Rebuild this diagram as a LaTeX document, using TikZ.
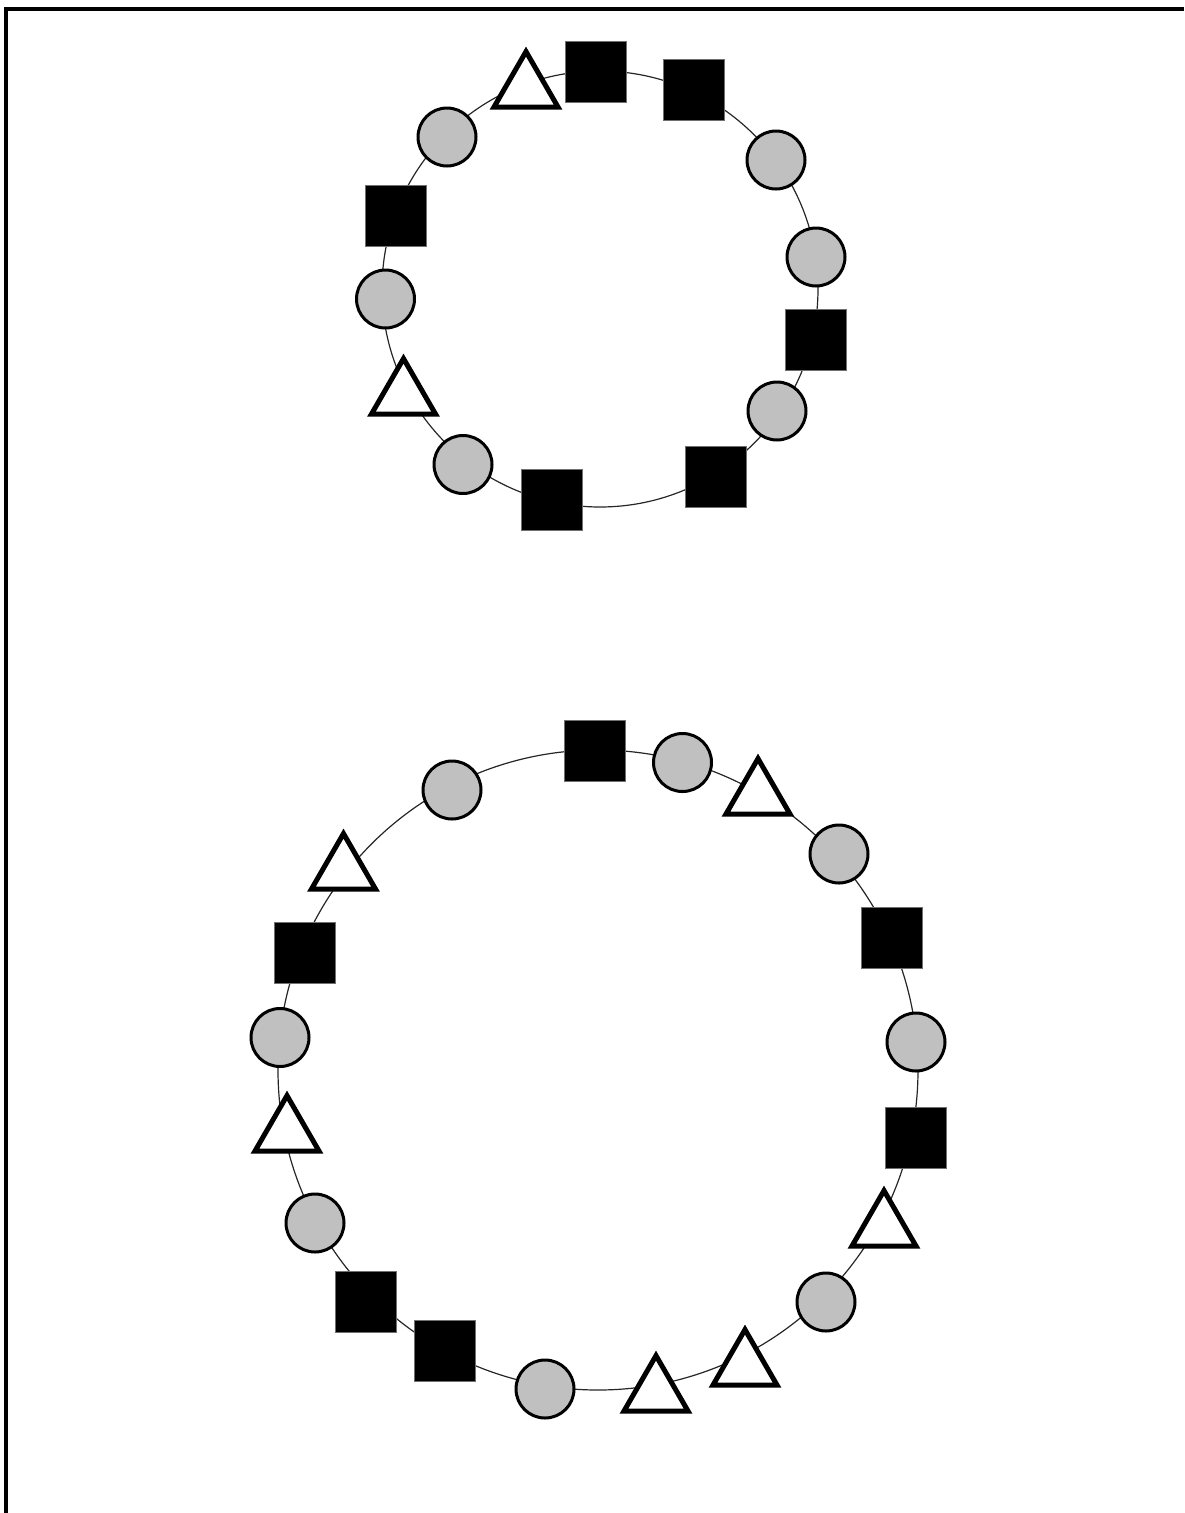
\documentclass[tikz,border=0pt]{standalone}
\usetikzlibrary{shapes.geometric}
\definecolor{ringgray}{HTML}{C0C0C0}
\definecolor{sqedge}{HTML}{707070}
\begin{document}
\begin{tikzpicture}[x=1pt,y=-1pt,
  ring/.style={draw=black!85, line width=1.2pt},
  gc/.style={circle, draw=black, line width=3pt, fill=ringgray, minimum size=58pt, inner sep=0pt},
  bsq/.style={rectangle, draw=sqedge, line width=1pt, fill=black, minimum size=61pt, inner sep=0pt},
  wtri/.style={regular polygon, regular polygon sides=3, draw=black, line width=5pt, fill=white, minimum size=74pt, inner sep=0pt, yshift=-8.6pt},
  frameline/.style={draw=black, line width=4pt}]
\useasboundingbox (0,0) rectangle (1184,1513);
% frame (left and top)
\coordinate (fbl) at (6,1513);
\coordinate (ftl) at (6,9);
\coordinate (ftr) at (1184,9);
\draw[frameline] (fbl) -- (ftl) -- (ftr);

% ---------- top ring ----------
\coordinate (ca) at (600,289);
\draw[ring] (ca) circle[radius=218pt];
\node[wtri] (a1)  at (526,80)   {};
\node[bsq]  (a2)  at (596,71.5) {};
\node[bsq]  (a3)  at (694,90)   {};
\node[gc]   (a4)  at (776,160)  {};
\node[gc]   (a5)  at (816,257)  {};
\node[bsq]  (a6)  at (816,340)  {};
\node[gc]   (a7)  at (777,411)  {};
\node[bsq]  (a8)  at (716,477)  {};
\node[bsq]  (a9)  at (552,500)  {};
\node[gc]   (a10) at (463,464.5){};
\node[wtri] (a11) at (403.5,387){};
\node[gc]   (a12) at (385.5,299){};
\node[bsq]  (a13) at (396,216)  {};
\node[gc]   (a14) at (447,137)  {};

% ---------- bottom ring ----------
\coordinate (cb) at (598,1070);
\draw[ring] (cb) circle[radius=320pt];
\node[bsq]  (b1)  at (594.5,750.5) {};
\node[gc]   (b2)  at (682.5,762.5) {};
\node[wtri] (b3)  at (758,787)   {};
\node[gc]   (b4)  at (839,854)   {};
\node[bsq]  (b5)  at (892,938)   {};
\node[gc]   (b6)  at (916,1042)  {};
\node[bsq]  (b7)  at (916,1138)  {};
\node[wtri] (b8)  at (884,1219)  {};
\node[gc]   (b9)  at (826,1302)  {};
\node[wtri] (b10) at (745,1358)  {};
\node[wtri] (b11) at (656,1384)  {};
\node[gc]   (b12) at (545,1389)  {};
\node[bsq]  (b13) at (445,1351)  {};
\node[bsq]  (b14) at (366,1302)  {};
\node[gc]   (b15) at (315,1223)  {};
\node[wtri] (b16) at (287,1124)  {};
\node[gc]   (b17) at (280,1037.5){};
\node[bsq]  (b18) at (304.5,953) {};
\node[wtri] (b19) at (343.5,862) {};
\node[gc]   (b20) at (452,790)   {};
\end{tikzpicture}
\end{document}
